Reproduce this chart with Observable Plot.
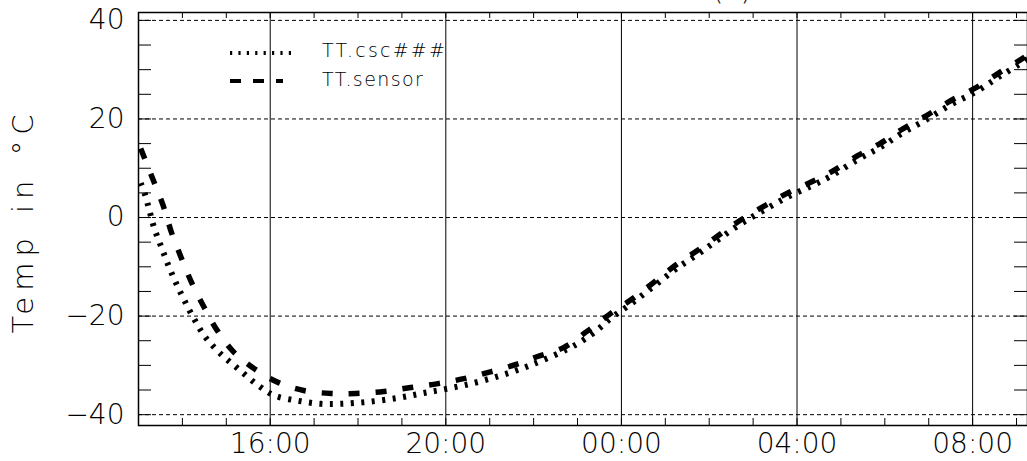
<!DOCTYPE html>
<html><head><meta charset="utf-8">
<script src="https://cdn.jsdelivr.net/npm/d3@7"></script>
<script src="https://cdn.jsdelivr.net/npm/@observablehq/plot@0.6"></script>
<style>
html,body{margin:0;padding:0;background:#fff;overflow:hidden}
</style></head><body><div id="chart"></div>
<script>
// ---- data (hours after 13:00 on day 1) ----
const startTime = "2000-01-01T13:00:00Z";
const sensorHours = [0.05,0.34,0.57,0.75,0.98,1.21,1.5,1.8,2.16,2.64,3.19,3.76,4.39,4.95,5.59,6.2,6.82,7.41,8.02,8.64,9.09,9.68,10.23,10.75,11.25,11.73,12.23,12.73,13.2,13.7,14.23,14.77,15.3,15.75,16.39,16.89,17.41,17.95,18.52,19.09,19.61,20.07,20.3];
const sensorTemp = [14.0,7.5,2.2,-3,-8.3,-13.2,-18.3,-23,-27.2,-30.7,-33.5,-35.1,-35.7,-35.7,-35.3,-34.5,-33.7,-32.7,-31.3,-29.7,-28.2,-26.4,-23,-19.5,-16.5,-13.2,-9.7,-6.7,-3.7,-0.6,2.2,4.9,7.1,9.1,12.6,15,18,20.7,23.8,26.4,29.4,31.9,33.2];
const cscHours = [0.05,0.14,0.25,0.36,0.52,0.68,0.86,1.05,1.25,1.5,1.84,2.27,2.73,3.09,3.64,4.16,4.61,5.23,5.91,6.5,7.11,7.8,8.86,10.0,10.52,10.75,11.25,11.73,12.23,12.73,13.2,13.7,14.23,14.77,15.3,15.75,16.39,16.89,17.41,17.95,18.52,19.09,19.61,20.07,20.3];
const cscTemp = [7,4.9,1.4,-2.2,-6,-9.7,-13.4,-16.9,-20.3,-24,-27.4,-30.7,-34.1,-36.1,-37.2,-37.8,-37.8,-37.4,-36.6,-35.6,-34.6,-33.2,-30.2,-25.6,-22.3,-20.5,-17.3,-14,-10.5,-7.5,-4.5,-1.4,1.4,4.1,6.3,8.3,11.8,14.2,17.2,19.9,23,25.6,28.6,31.1,32.4];
const xMajorHours = [3,7,11,15,19];          // 16:00 20:00 00:00 04:00 08:00
const xMinorHours = [1,2,3,4,5,6,7,8,9,10,11,12,13,14,15,16,17,18,19,20];
const yMajorTicks = [-40,-20,0,20,40];
const yMinorTicks = [-40,-35,-30,-25,-20,-15,-10,-5,0,5,10,15,20,25,30,35,40];
const seriesNames = ["TT.csc###","TT.sensor"];
const yLabel = "Temp in °C";
const titleText = "(a)";

// ---- layout ----
const W = 1027, H = 461, mL = 138, mR = 0, mT = 12, mB = 36;
const pw = W - mL - mR, ph = H - mT - mB;
const base = new Date(startTime);
const toDate = h => new Date(base.getTime() + h * 3600e3);
const sensor = sensorHours.map((h, i) => ({t: toDate(h), v: sensorTemp[i]}));
const csc = cscHours.map((h, i) => ({t: toDate(h), v: cscTemp[i]}));

const dotDash = "3,7.5", dashDash = "11,16";

const plot = Plot.plot({
  width: W, height: H,
  marginLeft: mL, marginRight: mR, marginTop: mT, marginBottom: mB,
  style: {fontFamily: "DejaVu Sans", fontWeight: 300, fontSize: "28px", color: "black", background: "white"},
  x: {type: "utc", domain: [toDate(0), toDate(20.25)]},
  y: {domain: [-42.2, 41.6]},
  marks: [
    Plot.ruleY(yMajorTicks, {stroke: "black", strokeWidth: 1, strokeDasharray: "4,3"}),
    Plot.ruleX(xMajorHours.map(toDate), {stroke: "black", strokeWidth: 1}),
    Plot.ruleX(xMinorHours.map(toDate), {insetTop: ph - 7, stroke: "black", strokeWidth: 1}),
    Plot.ruleX(xMinorHours.map(toDate), {insetBottom: ph - 6, stroke: "black", strokeWidth: 1}),
    Plot.ruleY(yMinorTicks, {insetRight: pw - 13, stroke: "black", strokeWidth: 1}),
    Plot.ruleY(yMinorTicks, {insetLeft: pw - 13, stroke: "black", strokeWidth: 1}),
    Plot.frame({stroke: "black", strokeWidth: 1.5}),
    Plot.line(csc, {x: "t", y: "v", stroke: "black", strokeWidth: 6, strokeDasharray: dotDash, strokeLinecap: "butt", curve: "catmull-rom", clip: "frame"}),
    Plot.line(sensor, {x: "t", y: "v", stroke: "black", strokeWidth: 5.5, strokeDasharray: dashDash, strokeLinecap: "butt", curve: "catmull-rom", clip: "frame"}),
    Plot.axisX(xMajorHours.map(toDate), {tickFormat: "%H:%M", tickSize: 0, tickPadding: 8, fontSize: 28, label: null}),
    Plot.axisY(yMajorTicks, {tickSize: 0, tickPadding: 14, fontSize: 28, label: null})
  ]
});

const svg = d3.select(plot);
// legend
const lg = svg.append("g").attr("text-anchor", "start").attr("fill", "black");
lg.append("line").attr("x1", 230).attr("x2", 292).attr("y1", 53).attr("y2", 53)
  .attr("stroke", "black").attr("stroke-width", 4).attr("stroke-linecap", "butt").attr("stroke-dasharray", "2.2,6.2");
lg.append("line").attr("x1", 230).attr("x2", 283).attr("y1", 81).attr("y2", 81)
  .attr("stroke", "black").attr("stroke-width", 4).attr("stroke-linecap", "butt").attr("stroke-dasharray", "11,12");
lg.append("text").attr("x", 322).attr("y", 57).attr("font-size", 19).attr("letter-spacing", 2.2).text(seriesNames[0]);
lg.append("text").attr("x", 322).attr("y", 86).attr("font-size", 19).attr("letter-spacing", 1.4).text(seriesNames[1]);
// y label
svg.append("text").attr("transform", "translate(33,221) rotate(-90)").attr("fill", "black")
  .attr("text-anchor", "middle").attr("font-size", 29).attr("letter-spacing", 6).attr("word-spacing", 4)
  .text(yLabel);
// title (cut off at top, as in the reference)
svg.append("text").attr("x", 732).attr("y", 0).attr("fill", "black").attr("text-anchor", "middle").attr("font-size", 28).text(titleText);

document.getElementById("chart").appendChild(plot);
</script></body></html>
